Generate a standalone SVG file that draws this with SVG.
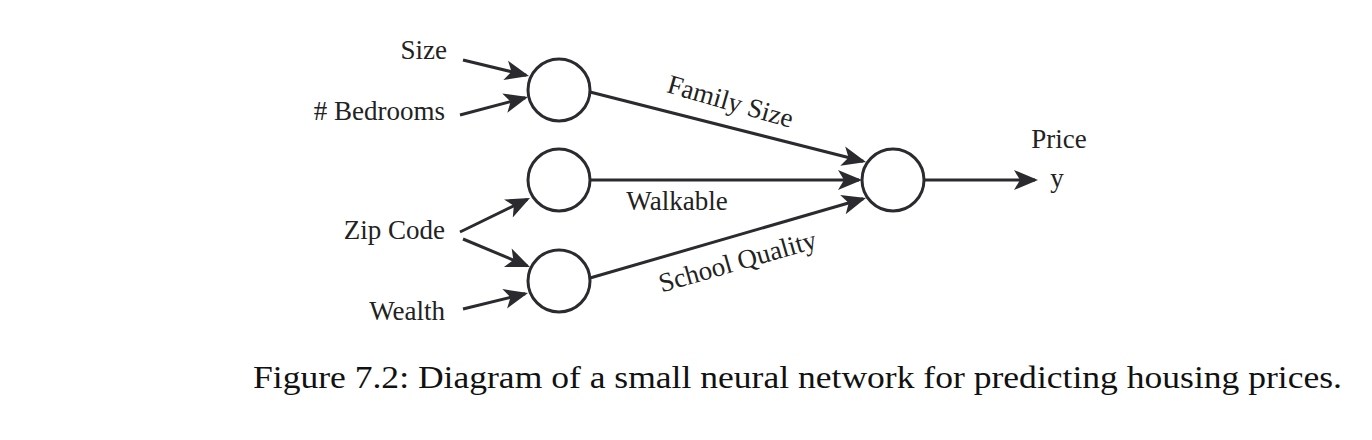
<svg xmlns="http://www.w3.org/2000/svg" width="1372" height="440" viewBox="0 0 1372 440">
<style>
.n{fill:#ffffff;stroke:#2b2b2f;stroke-width:3}
.e{fill:none;stroke:#2b2b2f;stroke-width:3;marker-end:url(#ah)}
</style>
<defs>
<marker id="ah" markerUnits="userSpaceOnUse" viewBox="-26 -12 30 24" refX="-3" refY="0" markerWidth="30" markerHeight="24" orient="auto">
<path d="M0,0 L-24,-10 L-18,0 L-24,10 Z" fill="#2b2b2f"/>
</marker>
</defs>
<rect width="1372" height="440" fill="#ffffff"/>
<g id="connectors">
<path class="e" d="M463,60 L526.1,75.3"/>
<path class="e" d="M460,115 L525.1,97.8"/>
<path class="e" d="M460,232 L527.3,199.3"/>
<path class="e" d="M463,239 L527.2,265.8"/>
<path class="e" d="M463,309 L525.1,293.7"/>
<path class="e" d="M590,92 L863.1,161.3"/>
<path class="e" d="M591,180 L859,180"/>
<path class="e" d="M590,278 L863.1,198.8"/>
<path class="e" d="M924,180 L1035,180"/>
<g font-family="Liberation Serif" font-size="27" fill="#222222" text-anchor="middle">
<text transform="translate(728,110) rotate(16)">Family Size</text>
<text x="677" y="210">Walkable</text>
<text transform="translate(740,270) rotate(-16)">School Quality</text>
</g>
</g>
<g font-family="Liberation Serif" font-size="27" fill="#222222">
<g id="in-size"><text text-anchor="end" x="447" y="59">Size</text></g>
<g id="in-bedrooms"><text text-anchor="end" x="445" y="120"># Bedrooms</text></g>
<g id="in-zip"><text text-anchor="end" x="445" y="239">Zip Code</text></g>
<g id="in-wealth"><text text-anchor="end" x="445" y="320">Wealth</text></g>
<g id="price">
<text text-anchor="middle" x="1059" y="148">Price</text>
<text text-anchor="middle" x="1057" y="187">y</text>
</g>
</g>
<g id="h-family"><circle class="n" cx="559" cy="90" r="31"/></g>
<g id="h-walkable"><circle class="n" cx="559" cy="180" r="31"/></g>
<g id="h-school"><circle class="n" cx="559" cy="281" r="31"/></g>
<g id="out"><circle class="n" cx="893" cy="180" r="31"/></g>
<g id="caption"><text font-family="Liberation Serif" font-size="31" fill="#111111" x="253" y="388" textLength="1089" lengthAdjust="spacingAndGlyphs">Figure 7.2: Diagram of a small neural network for predicting housing prices.</text></g>
</svg>
